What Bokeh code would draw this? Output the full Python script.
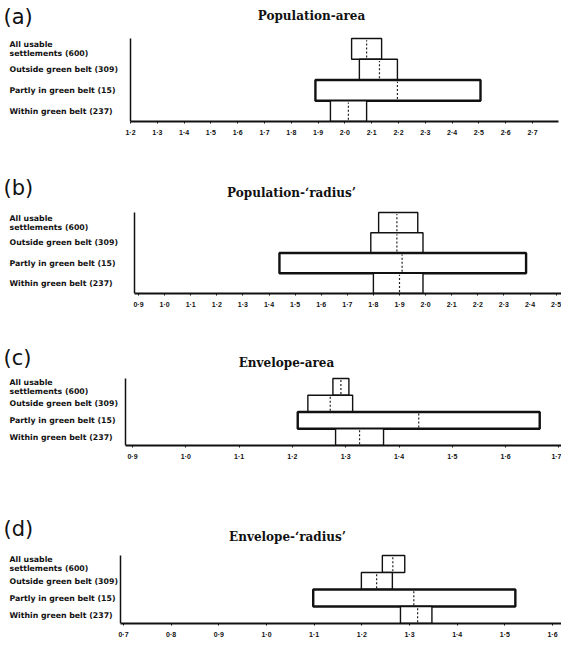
from bokeh.plotting import figure
from bokeh.layouts import column
from bokeh.models import Range1d, FixedTicker, CustomJSTickFormatter, ColumnDataSource
from bokeh.core.properties import value
from bokeh.embed import file_html
from bokeh.resources import INLINE

# ---------------- data ----------------
CATEGORIES = ["All usable\nsettlements (600)", "Outside green belt (309)",
              "Partly in green belt (15)", "Within green belt (237)"]
LETTERS = ["(a)", "(b)", "(c)", "(d)"]
TITLES = ["Population-area", "Population-\u2018radius\u2019",
          "Envelope-area", "Envelope-\u2018radius\u2019"]

A_TICKS = [1.2, 1.3, 1.4, 1.5, 1.6, 1.7, 1.8, 1.9, 2.0, 2.1, 2.2, 2.3, 2.4, 2.5, 2.6, 2.7]
A_LOW = [2.025, 2.054, 1.890, 1.946]
A_HIGH = [2.137, 2.196, 2.506, 2.081]
A_MED = [2.081, 2.129, 2.196, 2.013]

B_TICKS = [0.9, 1.0, 1.1, 1.2, 1.3, 1.4, 1.5, 1.6, 1.7, 1.8, 1.9, 2.0, 2.1, 2.2, 2.3, 2.4, 2.5]
B_LOW = [1.82, 1.79, 1.44, 1.80]
B_HIGH = [1.97, 1.99, 2.385, 1.99]
B_MED = [1.89, 1.89, 1.91, 1.90]

C_TICKS = [0.9, 1.0, 1.1, 1.2, 1.3, 1.4, 1.5, 1.6, 1.7]
C_LOW = [1.276, 1.229, 1.210, 1.281]
C_HIGH = [1.306, 1.313, 1.664, 1.371]
C_MED = [1.291, 1.271, 1.437, 1.326]

D_TICKS = [0.7, 0.8, 0.9, 1.0, 1.1, 1.2, 1.3, 1.4, 1.5, 1.6]
D_LOW = [1.243, 1.199, 1.098, 1.281]
D_HIGH = [1.290, 1.264, 1.522, 1.347]
D_MED = [1.265, 1.231, 1.309, 1.317]

FIG_W = 561


def make_panel(letter, title, ticks, low, high, med,
               t0_px, ppu, yaxis_px, axis_end_px,
               fig_top, axis_y, band_px, fig_bottom, letter_y, title_y, title_x):
    t0 = ticks[0]

    def px(page_x):
        return t0 + (page_x - t0_px) / ppu

    def py(page_y):
        return (axis_y - page_y) / band_px

    x_start, x_end = px(0), px(FIG_W)
    y_top = py(fig_top)
    yaxis_x = px(yaxis_px)

    p = figure(width=FIG_W, height=fig_bottom - fig_top,
               x_range=Range1d(x_start, x_end), y_range=Range1d(0, y_top),
               output_backend="svg", toolbar_location=None, title=None,
               min_border_left=0, min_border_right=0, min_border_top=0,
               min_border_bottom=fig_bottom - axis_y,
               y_axis_location=None, outline_line_color=None,
               background_fill_color="white", border_fill_color="white")
    p.grid.visible = False

    n = len(CATEGORIES)
    bottoms = [n - 1 - i for i in range(n)]
    tops = [b + 1 for b in bottoms]
    widths = [2.4 if c.startswith("Partly") else 1.4 for c in CATEGORIES]
    src = ColumnDataSource(dict(low=low, high=high, med=med, bottom=bottoms, top=tops,
                                mb=[b + 0.08 for b in bottoms], mt=[t - 0.08 for t in tops],
                                lw=widths, ymid=[b + 0.5 for b in bottoms], cat=CATEGORIES,
                                lx=[px(9)] * n))

    p.quad(left="low", right="high", bottom="bottom", top="top", source=src,
           fill_color="white", line_color="#111111", line_width="lw")
    p.segment(x0="med", y0="mb", x1="med", y1="mt", source=src,
              line_color="#222222", line_width=1.2, line_dash="2 2")

    # vertical axis line
    p.segment(x0=[yaxis_x], y0=[0], x1=[yaxis_x], y1=[n], line_color="#111111", line_width=1.5)

    # category labels
    p.text(x="lx", y="ymid", text="cat", source=src,
           text_font=value("DejaVu Sans"), text_font_style="bold",
           text_font_size="7.8px", text_align="left", text_baseline="middle",
           text_color="#111111", text_line_height=1.0)

    # panel letter and title
    p.text(x=[px(3)], y=[py(letter_y)], text=[letter], text_font=value("DejaVu Sans"),
           text_font_size="21px", text_align="left", text_baseline="middle",
           text_color="#111111")
    p.text(x=[px(title_x)], y=[py(title_y)], text=[title],
           text_font=value("DejaVu Serif"), text_font_style="bold",
           text_font_size="12px", text_align="center", text_baseline="middle",
           text_color="#111111")

    ax = p.xaxis[0]
    ax.ticker = FixedTicker(ticks=ticks)
    ax.formatter = CustomJSTickFormatter(code="return tick.toFixed(1).replace('.', '\u00b7');")
    ax.bounds = (yaxis_x, px(axis_end_px))
    ax.axis_line_width = 2
    ax.axis_line_color = "#111111"
    ax.major_tick_out = 2
    ax.major_tick_in = 0
    ax.minor_tick_out = 0
    ax.minor_tick_in = 0
    ax.major_tick_line_color = "#111111"
    ax.major_label_text_font = "Liberation Sans"
    ax.major_label_text_font_style = "bold"
    ax.major_label_text_font_size = "7px"
    ax.major_label_text_color = "#111111"
    ax.major_label_standoff = 5
    return p


pa = make_panel(LETTERS[0], TITLES[0], A_TICKS, A_LOW, A_HIGH, A_MED,
                130, 268.0, 130, 558,
                0, 121, 20.75, 160, 16, 15, 311)
pb = make_panel(LETTERS[1], TITLES[1], B_TICKS, B_LOW, B_HIGH, B_MED,
                138, 261.0, 134, 561,
                160, 293, 20.25, 318, 187, 192, 291)
pc = make_panel(LETTERS[2], TITLES[2], C_TICKS, C_LOW, C_HIGH, C_MED,
                132, 533.0, 125, 561,
                318, 445, 16.75, 480, 357, 362, 286)
pd = make_panel(LETTERS[3], TITLES[3], D_TICKS, D_LOW, D_HIGH, D_MED,
                123, 476.7, 120, 561,
                480, 623, 17.0, 648, 528, 536, 287)

layout = column(pa, pb, pc, pd, spacing=0)
open("out.html", "w").write(file_html(layout, INLINE))
